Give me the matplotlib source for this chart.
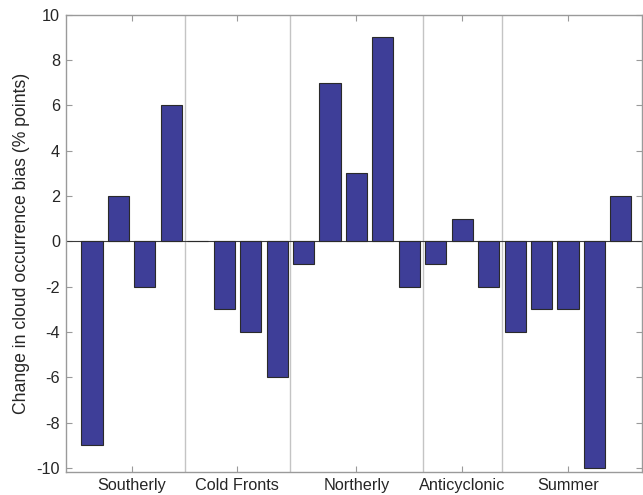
import numpy as np
import matplotlib
matplotlib.use('Agg')
import matplotlib.pyplot as plt

plt.rcParams['font.family'] = ['Liberation Sans', 'DejaVu Sans']
plt.rcParams['axes.unicode_minus'] = False

# change in cloud occurrence bias per bar, grouped by synoptic regime
bias_change = [-9, 2, -2, 6,
               0, -3, -4, -6,
               -1, 7, 3, 9, -2,
               -1, 1, -2,
               -4, -3, -3, -10, 2]
group_names = ['Southerly', 'Cold Fronts', 'Northerly', 'Anticyclonic', 'Summer']
group_ticks = [2.5, 6.5, 11, 15, 19]
group_breaks = [4.5, 8.5, 13.5, 16.5]

x = np.arange(1, len(bias_change) + 1)

fig = plt.figure(figsize=(6.43, 4.95), dpi=100)
ax = fig.add_axes([0.1019, 0.0455, 0.8966, 0.925])

for b in group_breaks:
    ax.axvline(b, color='#c4c4c4', lw=1.0, zorder=1)

ax.bar(x, bias_change, width=0.8, color='#3e3e98', edgecolor='#2a2a2a',
       linewidth=0.8, zorder=3)
ax.axhline(0, color='#3a3a3a', lw=0.8, zorder=2)

ax.set_xlim(0, 21.8)
ax.set_ylim(-10.2, 10)
ax.set_yticks(np.arange(-10, 11, 2))
ax.set_xticks(group_ticks)
ax.set_xticklabels(group_names)

ax.set_ylabel('Change in cloud occurrence bias (% points)', fontsize=12.7,
              color='#262626', labelpad=5)

for s in ax.spines.values():
    s.set_color('#9a9a9a')
    s.set_linewidth(1.0)
ax.tick_params(direction='in', length=4, width=0.8, color='#9a9a9a',
               labelcolor='#262626', labelsize=11.7, top=True, right=True, pad=4)

fig.savefig('out.png', dpi=100)
